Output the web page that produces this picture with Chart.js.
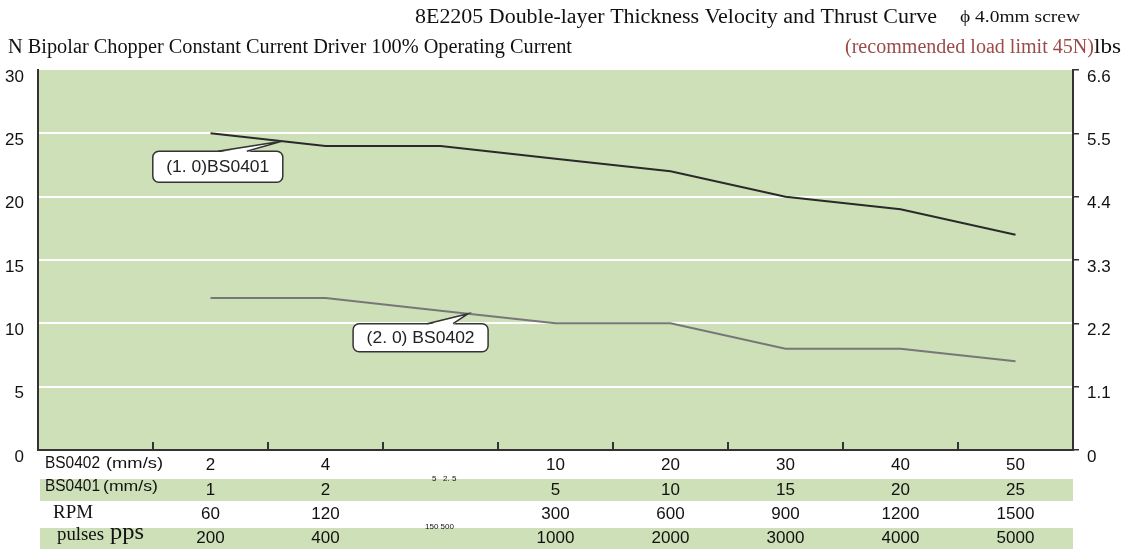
<!DOCTYPE html>
<html>
<head>
<meta charset="utf-8">
<script src="https://cdn.jsdelivr.net/npm/chart.js@4.4.1/dist/chart.umd.min.js"></script>
<style>
  html, body { margin: 0; padding: 0; background: #fff; }
</style>
</head>
<body>
<canvas id="thrustChart" width="1124" height="554"></canvas>
<script>
// ---------------- DATA ----------------
const slots = ["", "2", "4", "", "10", "20", "30", "40", "50"];
const bs0401Thrust = [null, 25, 24, 24, 23, 22, 20, 19, 17];
const bs0402Thrust = [null, 12, 12, 11, 10, 10, 8, 8, 7];
const leftTicks = [0, 5, 10, 15, 20, 25, 30];
const rightTicks = ["0", "1.1", "2.2", "3.3", "4.4", "5.5", "6.6"];

// table under the plot (one entry per slot after the label column)
const bs0402Speed = ["2", "4", "", "10", "20", "30", "40", "50"];
const bs0401Speed = ["1", "2", "", "5", "10", "15", "20", "25"];
const rpmRow = ["60", "120", "", "300", "600", "900", "1200", "1500"];
const ppsRow = ["200", "400", "", "1000", "2000", "3000", "4000", "5000"];

const GREEN = "#cde0b8";
const DARK = "#333";
const SANS = '"Liberation Sans", Arial, sans-serif';
const SERIF = '"Liberation Serif", "Times New Roman", serif';

// draws text stretched/squeezed horizontally to a given width
function fitText(ctx, text, x, y, width) {
  const m = ctx.measureText(text).width;
  ctx.save();
  ctx.translate(x, y);
  ctx.scale(width / m, 1);
  ctx.fillText(text, 0, 0);
  ctx.restore();
}

// ---------------- PLUGINS ----------------
const backgroundPlugin = {
  id: "background",
  beforeDraw(chart) {
    const { ctx, chartArea: a } = chart;
    ctx.save();
    ctx.fillStyle = "#fff";
    ctx.fillRect(0, 0, chart.width, chart.height);
    ctx.fillStyle = GREEN;
    ctx.fillRect(a.left, a.top, a.right - a.left, a.bottom - a.top);
    ctx.restore();
  }
};

function valueAt(series, pos) {
  const i = Math.floor(pos);
  const f = pos - i;
  return series[i] + (series[i + 1] - series[i]) * f;
}

const callouts = [
  { text: "(1. 0)BS0401", series: bs0401Thrust, pos: 1.62, dx: -129, dy: 10, w: 130, h: 31, b0: -64, b1: -35, tw: 103 },
  { text: "(2. 0) BS0402", series: bs0402Thrust, pos: 3.24, dx: -115, dy: 10, w: 135, h: 28, b0: -41, b1: -15, tw: 108 }
];

const calloutPlugin = {
  id: "callouts",
  afterDatasetsDraw(chart) {
    const { ctx, scales } = chart;
    ctx.save();
    callouts.forEach(c => {
      const tx = scales.x.getPixelForValue(c.pos);
      const ty = scales.y.getPixelForValue(valueAt(c.series, c.pos));
      const bx = tx + c.dx, by = ty + c.dy;
      ctx.lineWidth = 1.5;
      ctx.strokeStyle = DARK;
      ctx.fillStyle = "#fff";
      ctx.beginPath();
      ctx.roundRect(bx, by, c.w, c.h, 6);
      ctx.fill();
      ctx.stroke();
      // pointer wedge
      ctx.beginPath();
      ctx.moveTo(tx + c.b0, by + 1.2);
      ctx.lineTo(tx, ty);
      ctx.lineTo(tx + c.b1, by + 1.2);
      ctx.closePath();
      ctx.fill();
      ctx.beginPath();
      ctx.moveTo(tx + c.b0, by);
      ctx.lineTo(tx, ty);
      ctx.lineTo(tx + c.b1, by);
      ctx.stroke();
      ctx.fillStyle = "#222";
      ctx.font = "16px " + SANS;
      ctx.textAlign = "left";
      ctx.textBaseline = "middle";
      fitText(ctx, c.text, bx + (c.w - c.tw) / 2, by + c.h / 2 + 1, c.tw);
    });
    ctx.restore();
  }
};

const tablePlugin = {
  id: "table",
  afterDraw(chart) {
    const { ctx, scales, chartArea: a } = chart;
    const x = scales.x;
    ctx.save();
    // green bands
    ctx.fillStyle = GREEN;
    ctx.fillRect(a.left + 2, 479, a.right - a.left - 2, 22);
    ctx.fillRect(a.left + 2, 528, a.right - a.left - 2, 21);

    const rows = [
      { vals: bs0402Speed, y: 465 },
      { vals: bs0401Speed, y: 490 },
      { vals: rpmRow, y: 514 },
      { vals: ppsRow, y: 538 }
    ];
    ctx.fillStyle = "#111";
    ctx.textAlign = "center";
    ctx.textBaseline = "middle";
    ctx.font = "17px " + SANS;
    rows.forEach(r => {
      r.vals.forEach((v, i) => ctx.fillText(v, x.getPixelForValue(i + 1), r.y));
    });

    // row headers
    ctx.textAlign = "left";
    ctx.font = "16px " + SANS;
    fitText(ctx, "BS0402", 45, 464, 55);
    fitText(ctx, "BS0401", 45, 487, 55);
    ctx.font = "15px " + SANS;
    fitText(ctx, "(mm/s)", 106, 464, 57);
    fitText(ctx, "(mm/s)", 103, 487, 55);
    ctx.font = "18px " + SERIF;
    fitText(ctx, "RPM", 53, 513, 40);
    fitText(ctx, "pulses", 57, 535, 47);
    ctx.font = "23px " + SERIF;
    fitText(ctx, "pps", 110, 533, 34);

    // leftover tiny labels in the empty column
    ctx.font = "8px " + SANS;
    ctx.fillText("5   2. 5", 432, 479);
    ctx.fillText("150 500", 425, 527);

    // titles
    ctx.textBaseline = "alphabetic";
    ctx.font = "20px " + SERIF;
    ctx.fillStyle = "#111";
    fitText(ctx, "8E2205 Double-layer Thickness Velocity and Thrust Curve", 415, 23, 522);
    fitText(ctx, "N Bipolar Chopper Constant Current Driver 100% Operating Current", 8, 53, 564);
    ctx.font = "16px " + SERIF;
    fitText(ctx, "\u03D5 4.0mm screw", 960, 22, 120);
    ctx.font = "20px " + SERIF;
    ctx.fillStyle = "#9b4b4b";
    fitText(ctx, "(recommended load limit 45N)", 845, 53, 249);
    ctx.fillStyle = "#111";
    fitText(ctx, "lbs", 1094, 53, 27);
    ctx.restore();
  }
};

// ---------------- CHART ----------------
const chartCtx = document.getElementById("thrustChart").getContext("2d");

new Chart(chartCtx, {
  type: "line",
  data: {
    labels: slots,
    datasets: [
      {
        label: "BS0401",
        data: bs0401Thrust,
        borderColor: "#2a2a2a",
        borderWidth: 2,
        pointRadius: 0,
        tension: 0
      },
      {
        label: "BS0402",
        data: bs0402Thrust,
        borderColor: "#777",
        borderWidth: 2,
        pointRadius: 0,
        tension: 0
      }
    ]
  },
  options: {
    responsive: false,
    animation: false,
    devicePixelRatio: 1,
    layout: { padding: { top: 70, left: 0, right: 0, bottom: 0 } },
    plugins: {
      legend: { display: false },
      tooltip: { enabled: false }
    },
    scales: {
      x: {
        type: "category",
        offset: true,
        grid: { offset: true, drawOnChartArea: false, tickLength: -8, color: DARK, lineWidth: 2 },
        border: { color: DARK, width: 2 },
        ticks: { display: false },
        afterFit: s => { s.height = 104; }
      },
      y: {
        position: "left",
        min: 0,
        max: 30,
        afterBuildTicks: s => { s.ticks = leftTicks.map(v => ({ value: v })); },
        ticks: {
          callback: v => ["", String(v)],
          padding: 14,
          color: "#111",
          font: { family: SANS, size: 17, lineHeight: "14px" }
        },
        grid: {
          drawTicks: false,
          lineWidth: 2,
          color: c => (c.tick && c.tick.value > 0 && c.tick.value < 30) ? "#fff" : "rgba(0,0,0,0)"
        },
        border: { color: DARK, width: 2 },
        afterFit: s => { s.width = 38; }
      },
      y2: {
        position: "right",
        min: 0,
        max: 6.6,
        afterBuildTicks: s => { s.ticks = rightTicks.map(v => ({ value: parseFloat(v) })); },
        ticks: {
          callback: (v, i) => ["", rightTicks[i]],
          padding: 8,
          color: "#111",
          font: { family: SANS, size: 17, lineHeight: "14px" }
        },
        grid: { drawOnChartArea: false, tickLength: 6, color: DARK, lineWidth: 1.5 },
        border: { color: DARK, width: 2 },
        afterFit: s => { s.width = 51; }
      }
    }
  },
  plugins: [backgroundPlugin, calloutPlugin, tablePlugin]
});
</script>
</body>
</html>
